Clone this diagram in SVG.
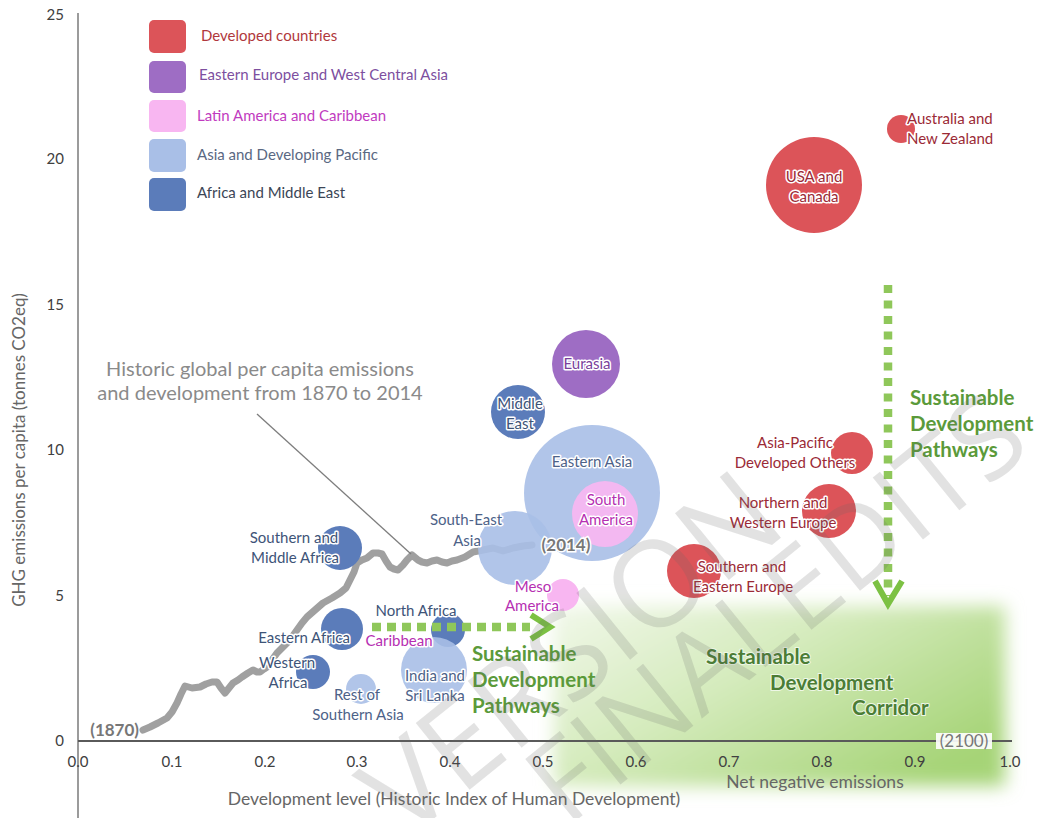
<svg xmlns="http://www.w3.org/2000/svg" width="1041" height="818" viewBox="0 0 1041 818">
<defs>
<style>
text{font-family:Lato,"Open Sans","Liberation Sans",sans-serif;}
.lbl{font-size:15px;text-anchor:middle;stroke:#fff;stroke-width:3px;paint-order:stroke;stroke-linejoin:round;}
.red{fill:#9b2a36;}
.blu{fill:#3e5478;}
.lbl2{fill:#4d6288;}
.pnk{fill:#b62fb2;}
.pur{fill:#7a3f9c;}
.c-red{fill:#dc5459;}
.c-pur{fill:#9e6dc4;}
.c-pnk{fill:#f8b6f1;}
.c-lbl{fill:#a9bfe7;opacity:.9;}
.c-blu{fill:#5b7cba;}
.tick{font-size:15px;fill:#404040;}
.axt{font-size:17.5px;fill:#666;}
.leg{font-size:15px;}
.grn{font-size:20.5px;font-weight:700;fill:#5b9a3a;}
.grn2{font-size:20.5px;font-weight:700;fill:#4b7d35;stroke:#eef7e6;stroke-width:2px;paint-order:stroke;}
.yr{font-size:17px;font-weight:700;fill:#777;}
.wm{font-family:"Open Sans",Lato,sans-serif;font-weight:400;fill:#666;opacity:.18;}
.dash{fill:none;stroke:#8fc75a;stroke-width:8.5;}
.chev{fill:none;stroke:#7cc143;stroke-width:6;stroke-linejoin:miter;}
</style>
<linearGradient id="corr" x1="0" y1="0" x2="1" y2="0.7">
<stop offset="0" stop-color="#f1f8ea"/>
<stop offset="0.45" stop-color="#d5ebbd"/>
<stop offset="1" stop-color="#a6d477"/>
</linearGradient>
<filter id="soft" x="-10%" y="-15%" width="120%" height="130%">
<feGaussianBlur stdDeviation="9"/>
</filter>
</defs>
<rect width="1041" height="818" fill="#fff"/>

<g id="corridor">
<rect x="554" y="606" width="451" height="180" fill="url(#corr)" filter="url(#soft)"/>
</g>

<g id="axes">
<line x1="78" y1="13" x2="78" y2="818" stroke="#7a7a7a" stroke-width="1.5"/>
<line x1="78" y1="741" x2="1012" y2="741" stroke="#5a5a5a" stroke-width="2"/>
<g class="tick" text-anchor="end">
<text x="64" y="20">25</text>
<text x="64" y="164">20</text>
<text x="64" y="310">15</text>
<text x="64" y="455">10</text>
<text x="64" y="601">5</text>
<text x="64" y="746">0</text>
</g>
<g class="tick" text-anchor="middle">
<text x="78" y="767">0.0</text>
<text x="172" y="767">0.1</text>
<text x="265" y="767">0.2</text>
<text x="357" y="767">0.3</text>
<text x="450" y="767">0.4</text>
<text x="543" y="767">0.5</text>
<text x="636" y="767">0.6</text>
<text x="729" y="767">0.7</text>
<text x="822" y="767">0.8</text>
<text x="915" y="767">0.9</text>
<text x="1010" y="767">1.0</text>
</g>
<text class="axt" x="454" y="805" text-anchor="middle">Development level (Historic Index of Human Development)</text>
<text class="axt" transform="translate(25,450) rotate(-90)" text-anchor="middle" style="font-size:17px">GHG emissions per capita (tonnes CO2eq)</text>
<text class="axt" x="815" y="788" text-anchor="middle" fill="#777">Net negative emissions</text>
<rect x="936" y="733" width="56" height="16" fill="#fff" opacity="0.9"/>
<text x="964" y="747" text-anchor="middle" font-size="17" fill="#777">(2100)</text>
</g>

<g id="legend">
<rect x="149" y="20" width="37" height="33" rx="5" class="c-red"/>
<rect x="149" y="61" width="37" height="32" rx="5" class="c-pur"/>
<rect x="149" y="100" width="37" height="32" rx="5" class="c-pnk"/>
<rect x="149" y="139" width="37" height="33" rx="5" fill="#a9bfe7"/>
<rect x="149" y="178" width="37" height="33" rx="5" class="c-blu"/>
<text class="leg" x="201" y="41" fill="#b0383c">Developed countries</text>
<text class="leg" x="199" y="80" fill="#7d4f9f">Eastern Europe and West Central Asia</text>
<text class="leg" x="197" y="121" fill="#c13bc0">Latin America and Caribbean</text>
<text class="leg" x="197" y="160" fill="#5a6882">Asia and Developing Pacific</text>
<text class="leg" x="197" y="198" fill="#3c4656">Africa and Middle East</text>
</g>

<g id="historic-note">
<text x="260" y="376" text-anchor="middle" font-size="20" fill="#8a8a8a">Historic global per capita emissions</text>
<text x="260" y="400" text-anchor="middle" font-size="20" fill="#8a8a8a">and development from 1870 to 2014</text>
<text class="yr" x="139" y="736" text-anchor="end">(1870)</text>
</g>

<g id="connectors">
<path d="M143,730 L150,727 L158,723 L167,718 L172,712 L177,703 L181,694 L185,686 L192,688 L200,687 L206,684 L212,682 L217,682 L221,688 L225,693 L229,688 L233,683 L238,680 L242,677 L248,673 L253,670 L257,672 L260,672 L264,669 L267,667 L272,660 L277,653 L282,648 L287,643 L292,637 L297,630 L302,623 L307,617 L315,610 L323,603 L332,598 L340,593 L346,588 L350,580 L354,572 L357,563 L362,560 L367,558 L373,553 L378,553 L382,554 L386,561 L390,567 L394,569 L398,570 L403,565 L407,560 L412,555 L418,560 L422,562 L427,563 L432,561 L437,560 L442,562 L447,563 L452,561 L457,560 L465,557 L473,552 L483,550 L493,548 L503,551 L513,548 L523,546 L532,545" fill="none" stroke="#a0a0a0" stroke-width="7" stroke-linejoin="round" stroke-linecap="round"/>
<line x1="257" y1="414" x2="411" y2="554" stroke="#7d7d7d" stroke-width="1.3"/>
</g>

<g id="nodes">
<g id="australia-nz"><circle cx="901" cy="129" r="14" class="c-red"/><text class="lbl red" x="907" y="124" style="text-anchor:start">Australia and</text><text class="lbl red" x="907" y="144" style="text-anchor:start">New Zealand</text></g>
<g id="usa-canada"><circle cx="814" cy="185" r="48" class="c-red"/><text class="lbl red" x="814" y="182">USA and</text><text class="lbl red" x="814" y="202">Canada</text></g>
<g id="eurasia"><circle cx="586" cy="364" r="34" class="c-pur"/><text class="lbl pur" x="587" y="369">Eurasia</text></g>
<g id="middle-east"><circle cx="518" cy="412" r="27" class="c-blu"/><text class="lbl blu" x="520" y="409">Middle</text><text class="lbl blu" x="520" y="429">East</text></g>
<g id="eastern-asia"><circle cx="592" cy="493" r="68" class="c-lbl"/><text class="lbl lbl2" x="592" y="467">Eastern Asia</text></g>
<g id="south-east-asia"><circle cx="515" cy="548" r="37" class="c-lbl"/><text class="lbl lbl2" x="466" y="525">South-East</text><text class="lbl lbl2" x="467" y="546">Asia</text></g>
<g id="south-america"><circle cx="605" cy="514" r="33" class="c-pnk" opacity="0.92"/><text class="lbl pnk" x="606" y="505">South</text><text class="lbl pnk" x="606" y="525">America</text></g>
<text class="yr" x="566" y="551" text-anchor="middle" stroke="#fff" stroke-width="3" paint-order="stroke">(2014)</text>
<g id="meso-america"><circle cx="563" cy="595" r="16" class="c-pnk"/><text class="lbl pnk" x="533" y="592">Meso</text><text class="lbl pnk" x="532" y="611">America</text></g>
<g id="southern-middle-africa"><circle cx="340" cy="548" r="22" class="c-blu"/><text class="lbl blu" x="294" y="543">Southern and</text><text class="lbl blu" x="295" y="563">Middle Africa</text></g>
<g id="eastern-africa"><circle cx="342" cy="629" r="21" class="c-blu"/><text class="lbl blu" x="304" y="643">Eastern Africa</text></g>
<g id="western-africa"><circle cx="313" cy="672" r="17" class="c-blu"/><text class="lbl blu" x="287" y="668">Western</text><text class="lbl blu" x="288" y="688">Africa</text></g>
<g id="rest-southern-asia"><circle cx="361" cy="689" r="15" class="c-lbl"/><text class="lbl lbl2" x="357" y="700">Rest of</text><text class="lbl lbl2" x="358" y="720">Southern Asia</text></g>
<g id="north-africa"><circle cx="448" cy="630" r="17" class="c-blu"/><text class="lbl blu" x="416" y="616">North Africa</text></g>
<g id="india-sri-lanka"><circle cx="434" cy="670" r="33" class="c-lbl"/><text class="lbl lbl2" x="435" y="681">India and</text><text class="lbl lbl2" x="435" y="701">Sri Lanka</text></g>
<g id="caribbean"><text class="lbl pnk" x="399" y="646">Caribbean</text></g>
<g id="asia-pacific-dev"><circle cx="852" cy="453" r="21" class="c-red"/><text class="lbl red" x="795" y="448">Asia-Pacific</text><text class="lbl red" x="795" y="468">Developed Others</text></g>
<g id="north-west-europe"><circle cx="829" cy="511" r="27" class="c-red"/><text class="lbl red" x="783" y="508">Northern and</text><text class="lbl red" x="783" y="528">Western Europe</text></g>
<g id="south-east-europe"><circle cx="694" cy="571" r="27" class="c-red"/><text class="lbl red" x="742" y="572">Southern and</text><text class="lbl red" x="743" y="592">Eastern Europe</text></g>
</g>

<g id="pathways">
<line class="dash" x1="372" y1="627" x2="530" y2="627" stroke-dasharray="9 6"/>
<polyline class="chev" points="531,615 550,627 531,639"/>
<line class="dash" x1="888" y1="285" x2="888" y2="596" stroke-dasharray="8 7.5"/>
<polyline class="chev" points="875,581 888,604 902,581"/>
<text class="grn" x="472" y="661">Sustainable</text>
<text class="grn" x="472" y="687">Development</text>
<text class="grn" x="472" y="713">Pathways</text>
<text class="grn" x="910" y="405">Sustainable</text>
<text class="grn" x="910" y="431">Development</text>
<text class="grn" x="910" y="457">Pathways</text>
<text class="grn2" x="706" y="664">Sustainable</text>
<text class="grn2" x="770" y="690">Development</text>
<text class="grn2" x="852" y="715">Corridor</text>
</g>

<g id="watermark">
<text class="wm" font-size="120" transform="translate(405,842) rotate(-39)">VERSION</text>
<text class="wm" font-size="112" word-spacing="-28" transform="translate(567,828) rotate(-39)">FINAL EDITS</text>
</g>
</svg>
